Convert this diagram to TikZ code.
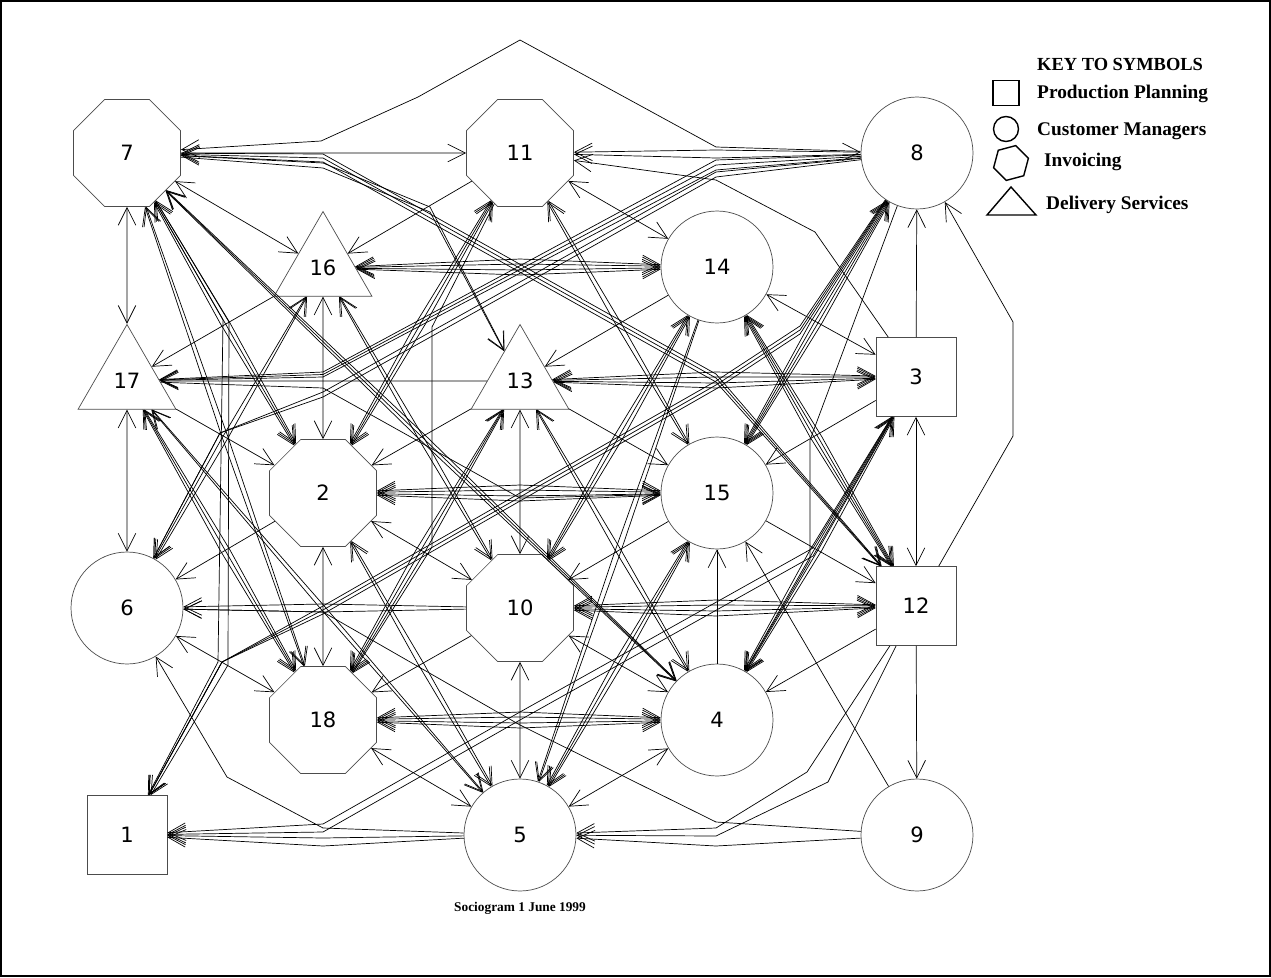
\documentclass[tikz,border=0pt]{standalone}
\usepackage{fontspec}
\setmainfont{Liberation Serif}
\newfontfamily\labelfont{DejaVu Sans}
\usetikzlibrary{arrows.meta,shapes.geometric}

\tikzset{
  person/.style={draw=black!70, line width=0.4pt, inner sep=0pt,
    font=\labelfont\fontsize{12}{14}\selectfont},
  planner/.style={person, rectangle, minimum width=1.6cm, minimum height=1.58cm},
  manager/.style={person, circle, minimum size=2.24cm},
  invoicer/.style={person, regular polygon, regular polygon sides=8, minimum size=2.32cm},
  courier/.style={person, regular polygon, regular polygon sides=3, minimum size=2.26cm},
  tie/.style={draw=black, line width=0.4pt},
  keysym/.style={draw=black, line width=0.8pt, inner sep=0pt},
  keytext/.style={anchor=west, font=\bfseries\fontsize{11}{13}\selectfont},
  >={Straight Barb[length=10pt,width=10pt]}
}

\begin{document}
\begin{tikzpicture}[x=0.02cm,y=-0.02cm]
  \useasboundingbox (0,0) rectangle (1271,977);
  \draw[line width=1.1pt] (1,1) rectangle (1270,976);

  % --- the people, row by row ---
  \node[invoicer] (n7)  at (127,153) {7};
  \node[invoicer] (n11) at (520,153) {11};
  \node[manager]  (n8)  at (917,153) {8};
  \node[courier]  (n16) at (323,268) {16};
  \node[manager]  (n14) at (717,267) {14};
  \node[courier]  (n17) at (127,381) {17};
  \node[courier]  (n13) at (520,381) {13};
  \node[planner]  (n3)  at (916,377) {3};
  \node[invoicer] (n2)  at (323,493) {2};
  \node[manager]  (n15) at (717,493) {15};
  \node[manager]  (n6)  at (127,608) {6};
  \node[invoicer] (n10) at (520,608) {10};
  \node[planner]  (n12) at (916,606) {12};
  \node[invoicer] (n18) at (323,720) {18};
  \node[manager]  (n4)  at (717,720) {4};
  \node[planner]  (n1)  at (127,835) {1};
  \node[manager]  (n5)  at (520,835) {5};
  \node[manager]  (n9)  at (917,835) {9};

  % --- short ties between neighbours ---
  \draw[tie,<->] (n7) -- (n17);
  \draw[tie,<->] (n17) -- (n6);
  \draw[tie,<->] (n16) -- (n2);
  \draw[tie,<->] (n2) -- (n18);
  \draw[tie,<->] (n13) -- (n10);
  \draw[tie,<->] (n10) -- (n5);
  \draw[tie,->] (n4) -- (n15);
  \draw[tie,->] (n3) -- (n8);
  \draw[tie,<->] (n3) -- (n12);
  \draw[tie,->] (n12) -- (n9);
  \draw[tie,<->] (n7) -- (n16);
  \draw[tie,->] (n11) -- (n16);
  \draw[tie,<->] (n11) -- (n14);
  \draw[tie,->] (n16) -- (n17);
  \draw[tie,->] (n17) -- (n2);
  \draw[tie,->] (n14) -- (n13);
  \draw[tie,->] (n13) -- (n2);
  \draw[tie,<->] (n14) -- (n3);
  \draw[tie,->] (n3) -- (n15);
  \draw[tie,->] (n13) -- (n15);
  \draw[tie,->] (n2) -- (n6);
  \draw[tie,<->] (n6) -- (n18);
  \draw[tie,<->] (n2) -- (n10);
  \draw[tie,->] (n15) -- (n10);
  \draw[tie,<->] (n10) -- (n4);
  \draw[tie,->] (n10) -- (n18);
  \draw[tie,<->] (n18) -- (n5);
  \draw[tie,<->] (n4) -- (n5);
  \draw[tie,->] (n12) -- (n4);
  \draw[tie,->] (n15) -- (n12);
  \draw[tie,->] (n9) -- (n15);
  \draw[tie,->] (n7) -- (n11);
  \draw[tie,->] (n13) -- (n17);

  % --- steep bundles, two rows down and one column over ---
  \foreach \o in {-5,0,5} {
    \draw[tie,<->] (n7) -- (225+\o,323) -- (n2);
    \draw[tie,<->] (n11) -- (421+\o,323) -- (n2);
    \draw[tie,<->] (n17) -- (225+\o,550) -- (n18);
    \draw[tie,<->] (n13) -- (421+\o,550) -- (n18);
    \draw[tie,<->] (n14) -- (618+\o,438) -- (n10);
    \draw[tie,<->] (n15) -- (618+\o,664) -- (n5);
    \draw[tie,<->] (n7) -- (422+\o,437) -- (n4);
  }
  \foreach \o in {-3,3} {
    \draw[tie,<->] (n11) -- (618+\o,323) -- (n15);
    \draw[tie,<->] (n16) -- (225+\o,438) -- (n6);
    \draw[tie,<->] (n16) -- (421+\o,438) -- (n10);
    \draw[tie,<->] (n13) -- (618+\o,550) -- (n4);
    \draw[tie,<->] (n2) -- (421+\o,664) -- (n5);
    \draw[tie,<->] (n17) -- (323+\o,608) -- (n5);
    \draw[tie,<->] (n7) -- (225+\o,437) -- (n18);
    \draw[tie,->] (n14) -- (618+\o,551) -- (n5);
  }
  \foreach \o in {-6,-2,2,6} {
    \draw[tie,<->] (n14) -- (816+\o,437) -- (n12);
    \draw[tie,<->] (n8) -- (816+\o,323) -- (n15);
    \draw[tie,<->] (n3) -- (816+\o,550) -- (n4);
  }

  % --- bundles across a row ---
  \foreach \o in {-8,-3,3,8} {
    \draw[tie,<->] (n16) -- (520,267+\o) -- (n14);
    \draw[tie,<->] (n13) -- (716,380+\o) -- (n3);
    \draw[tie,<->] (n2) -- (520,493+\o) -- (n15);
    \draw[tie,<->] (n12) -- (716,608+\o) -- (n10);
    \draw[tie,<->] (n18) -- (520,720+\o) -- (n4);
  }
  \foreach \o in {-4,4}
    \draw[tie,->] (n10) -- (323,608+\o) -- (n6);

  % --- long ties that bend in the gaps ---
  \draw[tie,->] (n8) -- (716,147) -- (520,40) -- (418,97) -- (321,141) -- (n7);
  \draw[tie,<->] (n11) -- (716,150) -- (n8);
  \draw[tie,->] (n8) -- (716,158) -- (n11);
  \draw[tie,->] (n3) -- (815,232) -- (716,180) -- (n11);
  \foreach \o in {0,5,10}
    \draw[tie,->] (n8) -- (716,160+\o) -- (323,372+\o/2) -- (n17);
  \foreach \o in {-4,0,4}
    \draw[tie,<->] (n7) -- (323,158+\o) -- (716,378+\o) -- (n12);
  \foreach \o in {0,5}
    \draw[tie,->] (n7) -- (323,163+\o) -- (430,207+\o) -- (n13);
  \foreach \o in {-4,0,4}
    \draw[tie,->] (n8) -- (800,330+\o) -- (716,385+\o) -- (520,497+\o) -- (323,610+\o) -- (222,662) -- (n1);
  \foreach \o in {0,5}
    \draw[tie,->] (n8) -- (716,172+\o) -- (520,282+\o) -- (323,392+\o) -- (220,433) -- (n6);
  \draw[tie,->] (n9) -- (716,822) -- (520,725) -- (323,612) -- (n6);
  \foreach \o in {-4,4}
    \draw[tie,->] (n3) -- (813,552+\o) -- (520,716+\o) -- (323,828+\o) -- (n1);
  \draw[tie,->] (n12) -- (807,772) -- (716,828) -- (n5);
  \draw[tie,->] (n12) -- (828,782) -- (716,836) -- (n5);
  \draw[tie,->] (n9) -- (716,846) -- (n5);
  \draw[tie,->] (n5) -- (323,838) -- (n1);
  \draw[tie,->] (n5) -- (323,846) -- (n1);
  \draw[tie,->] (n5) -- (323,828) -- (227,777) -- (n6);
  \draw[tie,->] (n7) -- (223,320) -- (218,662) -- (n1);
  \draw[tie,->] (n7) -- (229,322) -- (228,665) -- (n1);
  \draw[tie,->] (n12) -- (1013,436) -- (1013,322) -- (n8);
  \draw[tie,->] (n17) -- (323,388) -- (520,498) -- (n15);
  \draw[tie,->] (n11) -- (432,327) -- (432,547) -- (n18);
  \draw[tie,->] (n8) -- (810,440) -- (810,560) -- (n4);

  % --- key ---
  \node[keytext, font=\bfseries\fontsize{10.5}{12}\selectfont] (keyhead) at (1031,64) {KEY TO SYMBOLS};
  \node[keysym, rectangle, minimum width=0.52cm, minimum height=0.5cm] (keyplan) at (1006,93) {};
  \node[keysym, circle, minimum size=0.5cm] (keyman) at (1006,129) {};
  \node[keysym, regular polygon, regular polygon sides=6, minimum size=0.72cm, rotate=15] (keyinv) at (1011,163) {};
  \draw[keysym] (987,215) -- (1011,187) -- (1036,215) -- cycle;
  \node[keytext] (keyplantext) at (1031,94) {Production Planning};
  \node[keytext] (keymantext) at (1031,131) {Customer Managers};
  \node[keytext] (keyinvtext) at (1038,162) {Invoicing};
  \node[keytext] (keydeltext) at (1040,205) {Delivery Services};

  \node[font=\bfseries\fontsize{7.6}{9}\selectfont] (caption) at (520,908) {Sociogram 1 June 1999};
\end{tikzpicture}
\end{document}
